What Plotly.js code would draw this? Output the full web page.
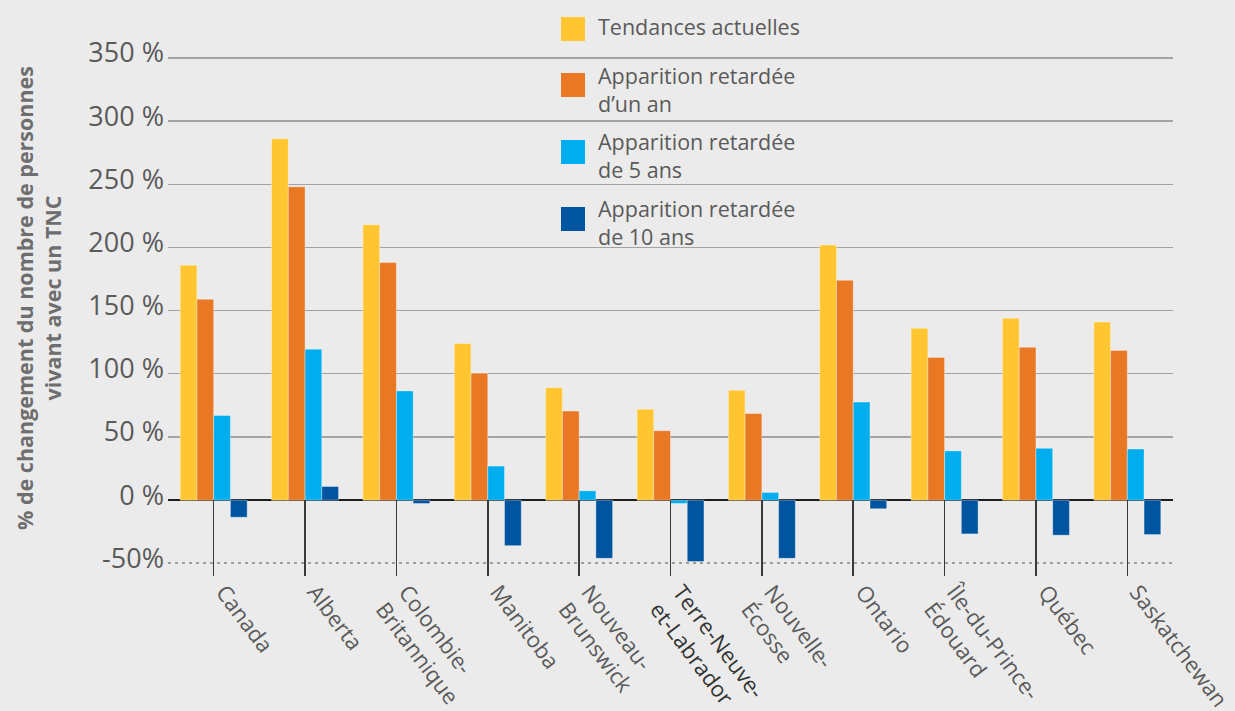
<!DOCTYPE html>
<html><head><meta charset="utf-8">
<script src="https://cdn.plot.ly/plotly-3.0.1.min.js"></script>
<style>html,body{margin:0;padding:0;background:#ebebeb;} #chart{width:1235px;height:711px;}</style>
</head><body><div id="chart"></div>
<script>
// ---- data ----
const categories = ['Canada','Alberta','Colombie-Britannique','Manitoba','Nouveau-Brunswick','Terre-Neuve-et-Labrador','Nouvelle-Écosse','Ontario','Île-du-Prince-Édouard','Québec','Saskatchewan'];
const tickLabels = ['Canada','Alberta','Colombie-<br>Britannique','Manitoba','Nouveau-<br>Brunswick','<span style="fill:#333">Terre-Neuve-<br>et-Labrador</span>','Nouvelle-<br>Écosse','Ontario','Île-du-Prince-<br>Édouard','Québec','Saskatchewan'];
const seriesNames = ['Tendances actuelles','Apparition retardée<br>d’un an','Apparition retardée<br>de 5 ans','Apparition retardée<br>de 10 ans'];
const tendancesActuelles = [186, 286, 218, 124, 89, 72, 87, 202, 136, 144, 141];
const retardUnAn        = [159, 248, 188, 100.5, 70.5, 55, 68.5, 174, 113, 121, 118.5];
const retardCinqAns     = [67, 119.5, 86.5, 27, 7.4, -2.6, 6.1, 77.6, 39, 41, 40.5];
const retardDixAns      = [-13.5, 10.8, -2.6, -36, -46, -48.6, -46, -6.8, -26.7, -27.7, -27.2];
const yTickVals = [0, 50, 100, 150, 200, 250, 300, 350];
const yTickText = ['0 %', '50 %', '100 %', '150 %', '200 %', '250 %', '300 %', '350 %'];
const yLowVals = [-50];
const yLowText = ['-50%'];
const yTitle = '% de changement du nombre de personnes<br>vivant avec un TNC';

// ---- style ----
const colors = ['#FFC632', '#E97824', '#00AEEF', '#0055A0'];
const seriesValues = [tendancesActuelles, retardUnAn, retardCinqAns, retardDixAns];
const FONT = 'Open Sans, Noto Sans, sans-serif';
const plotLeft = 168, plotTop = 20, plotW = 1005, plotH = 556;
const px2x = p => (p - plotLeft) / plotW;
const px2y = p => (plotTop + plotH - p) / plotH;

const traces = seriesValues.map((vals, i) => ({
  type: 'bar', x: categories, y: vals, name: seriesNames[i].replace('<br>', ' '),
  marker: {color: colors[i], line: {color: 'rgba(255,255,255,0.35)', width: 1}},
  showlegend: false, hoverinfo: 'x+y'
}));

// manual legend (large square keys, as in the reference)
const legSquareCenters = [29, 85, 152, 219];
const legTextTops = [10, 59, 125, 192];
const shapes = [], annotations = [];
seriesNames.forEach((nm, i) => {
  shapes.push({type: 'rect', xref: 'paper', yref: 'paper', xsizemode: 'pixel', ysizemode: 'pixel',
    xanchor: px2x(573), yanchor: px2y(legSquareCenters[i]), x0: -12, x1: 12, y0: -12, y1: 12,
    fillcolor: colors[i], line: {width: 0}});
  annotations.push({xref: 'paper', yref: 'paper', x: px2x(596), y: px2y(legTextTops[i]),
    xanchor: 'left', yanchor: 'top', align: 'left', showarrow: false, text: nm,
    font: {family: FONT, size: 21.5, color: '#5a5a5a'}});
});

const layout = {
  width: 1235, height: 711,
  margin: {l: plotLeft, r: 1235 - plotLeft - plotW, t: plotTop, b: 711 - plotTop - plotH, pad: 0},
  paper_bgcolor: '#ebebeb', plot_bgcolor: '#ebebeb',
  barmode: 'group', bargap: 0.267, bargroupgap: 0,
  font: {family: FONT, color: '#5a5a5a'},
  xaxis: {
    type: 'category', range: [-0.5, 10.5], tickvals: categories, ticktext: tickLabels,
    tickangle: 53, ticks: 'inside', ticklen: 76, tickwidth: 1.5, tickcolor: '#3a3a3a',
    showline: false, showgrid: false, zeroline: false, ticklabelstandoff: -2, ticklabelshift: 10,
    tickfont: {family: FONT, size: 22, color: '#5a5a5a'}, automargin: false
  },
  yaxis: {
    range: [-60, 380], tickvals: yTickVals, ticktext: yTickText,
    showgrid: true, gridcolor: '#a3a3a3', gridwidth: 1.3,
    zeroline: true, zerolinecolor: '#1e1e1e', zerolinewidth: 1.6,
    showline: false, ticks: '', ticklabelstandoff: 3, ticklabelshift: -5,
    tickfont: {family: FONT, size: 27, color: '#5a5a5a'}, automargin: false,
    title: {text: yTitle, standoff: 20, font: {family: FONT, size: 21.5, color: '#6e6e6e', weight: 'bold'}}
  },
  yaxis2: {
    overlaying: 'y', anchor: 'x', side: 'left', range: [-60, 380],
    tickvals: yLowVals, ticktext: yLowText,
    showgrid: true, gridcolor: '#9e9e9e', gridwidth: 2, griddash: '3px,4px',
    zeroline: false, showline: false, ticks: '', ticklabelstandoff: 3, ticklabelshift: -5,
    tickfont: {family: FONT, size: 27, color: '#5a5a5a'}, automargin: false
  },
  shapes: shapes, annotations: annotations
};

// invisible trace to activate yaxis2 (gridline + label at -50)
traces.unshift({type: 'scatter', x: [categories[0]], y: [null], yaxis: 'y2', mode: 'markers', showlegend: false, hoverinfo: 'skip'});

Plotly.newPlot('chart', traces, layout, {displayModeBar: false, staticPlot: true});
</script></body></html>
